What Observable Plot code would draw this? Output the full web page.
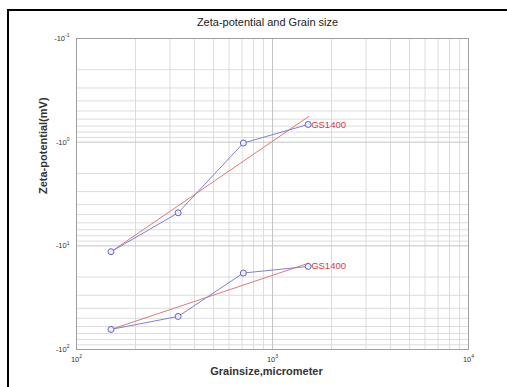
<!DOCTYPE html>
<html><head><meta charset="utf-8">
<script src="https://cdn.jsdelivr.net/npm/d3@7"></script>
<script src="https://cdn.jsdelivr.net/npm/@observablehq/plot@0.6"></script>
<style>
body{margin:0;background:#fff;}
#wrap{position:relative;width:507px;height:387px;overflow:hidden;background:#fff;}
#chart{position:absolute;left:0;top:0;}
#border{position:absolute;left:7px;top:9px;width:600px;height:500px;border-left:2px solid #000;border-top:2px solid #000;}
</style></head><body>
<div id="wrap"><div id="chart"></div><div id="border"></div></div>
<script>
// Data
const title = "Zeta-potential and Grain size";
const xLabel = "Grainsize,micrometer";
const yLabel = "Zeta-potential(mV)";
const grainsize = [150, 330, 710, 1520];          // micrometer
const zetaA = [-11.4, -4.8, -1.02, -0.675];        // mV (upper series)
const zetaB = [-64, -48, -18.3, -15.8];            // mV (lower series)
const fitX = [150, 1530];
const fitA = [-11.4, -0.565];
const fitB = [-64, -14.7];
const seriesLabels = ["GS1400", "GS1400"];
const xTicks = [100, 1000, 10000];
const xTickLabels = ["10^2", "10^3", "10^4"];
const yTicks = [-0.1, -1, -10, -100];
const yTickLabels = ["-10^-1", "-10^0", "-10^1", "-10^2"];

const mult = [2, 3, 4, 5, 6, 7, 8, 9];
const xMinor = mult.flatMap(m => [m * 100, m * 1000]);
const yMinor = mult.flatMap(m => [-m * 0.1, -m, -m * 10]);

const ptsA = grainsize.map((x, i) => ({x, y: zetaA[i]}));
const ptsB = grainsize.map((x, i) => ({x, y: zetaB[i]}));
const fA = fitX.map((x, i) => ({x, y: fitA[i]}));
const fB = fitX.map((x, i) => ({x, y: fitB[i]}));
const lastPts = [ptsA[ptsA.length - 1], ptsB[ptsB.length - 1]].map((p, i) => ({...p, label: seriesLabels[i]}));

const xFmt = new Map(xTicks.map((d, i) => [d, xTickLabels[i]]));
const yFmt = new Map(yTicks.map((d, i) => [d, yTickLabels[i]]));

const blue = "#8080d6";
const red = "#e07878";

const chart = Plot.plot({
  width: 507, height: 387,
  marginTop: 38, marginBottom: 38, marginLeft: 76, marginRight: 39,
  style: {fontFamily: "'Liberation Sans', Arial, sans-serif", background: "transparent", color: "#333"},
  x: {type: "log", domain: [100, 10000]},
  y: {type: "log", domain: [-100, -0.1]},
  marks: [
    Plot.ruleX(xMinor, {stroke: "#dcdcdc", strokeWidth: 1}),
    Plot.ruleY(yMinor, {stroke: "#dcdcdc", strokeWidth: 1}),
    Plot.ruleX([1000], {stroke: "#c4c4c4"}),
    Plot.ruleY([-1, -10], {stroke: "#c4c4c4"}),
    Plot.frame({stroke: "#a0a0a0"}),
    Plot.axisX(xTicks, {tickFormat: d => xFmt.get(d), tickSize: 0, tickPadding: 7, fontSize: 7.5, label: null}),
    Plot.axisY(yTicks, {tickFormat: d => yFmt.get(d), tickSize: 0, tickPadding: 7, fontSize: 7.5, label: null}),
    Plot.line(fA, {x: "x", y: "y", stroke: red, strokeWidth: 1}),
    Plot.line(fB, {x: "x", y: "y", stroke: red, strokeWidth: 1}),
    Plot.line(ptsA, {x: "x", y: "y", stroke: blue, strokeWidth: 1}),
    Plot.line(ptsB, {x: "x", y: "y", stroke: blue, strokeWidth: 1}),
    Plot.dot(ptsA, {x: "x", y: "y", r: 3, stroke: "#6262c6", fill: "#eef", strokeWidth: 1}),
    Plot.dot(ptsB, {x: "x", y: "y", r: 3, stroke: "#6262c6", fill: "#eef", strokeWidth: 1}),
    Plot.text(lastPts, {x: "x", y: "y", text: "label", dx: 3, textAnchor: "start", fill: "#e0383c", fontSize: 9.5}),
    Plot.text([title], {frameAnchor: "top", dy: -20, dx: -5, fontSize: 11, fill: "#222"}),
    Plot.text([xLabel], {frameAnchor: "bottom", dy: 25, dx: -6, fontSize: 11, fontWeight: "bold", fill: "#333"}),
    Plot.text([yLabel], {frameAnchor: "left", dx: -33, rotate: -90, fontSize: 11, fontWeight: "bold", fill: "#333"})
  ]
});

// superscript exponents in tick labels
d3.select(chart).selectAll('g[aria-label="x-axis tick label"] text, g[aria-label="y-axis tick label"] text').each(function() {
  const t = this.textContent;
  const parts = t.split("^");
  if (parts.length < 2) return;
  this.textContent = "";
  const s = d3.select(this);
  s.append("tspan").text(parts[0]);
  s.append("tspan").attr("dy", "-3.5").attr("font-size", "5").text(parts[1]);
});

document.getElementById("chart").appendChild(chart);
</script>
</body></html>
